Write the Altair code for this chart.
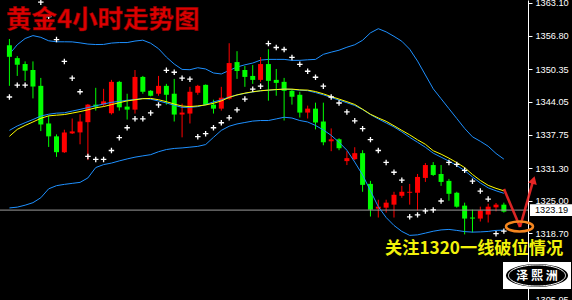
import altair as alt
import numpy as np
import pandas as pd

# Gold, 4-hour bars, oldest first
opens = [1354.95, 1352.47, 1351.33, 1350.18, 1347.13, 1339.88, 1337.40, 1334.35, 1337.97, 1338.16,
         1340.13, 1343.51, 1343.51, 1341.85, 1347.90, 1343.13, 1342.55, 1348.85, 1346.18, 1345.61,
         1347.13, 1345.61, 1341.60, 1341.79, 1345.80, 1347.32, 1343.51, 1342.74, 1344.65, 1351.71,
         1350.18, 1349.04, 1348.28, 1351.33, 1348.28, 1347.90, 1346.18, 1345.41, 1341.98, 1342.74,
         1340.26, 1336.45, 1336.83, 1332.63, 1333.01, 1334.16, 1328.24, 1323.47, 1323.66, 1324.24,
         1325.95, 1326.53, 1326.53, 1329.39, 1331.87, 1330.15, 1328.82, 1326.53, 1324.05, 1321.76,
         1321.56, 1322.33, 1323.72, 1324.24]
highs = [1356.16, 1352.86, 1351.84, 1351.84, 1348.66, 1341.41, 1337.78, 1338.68, 1340.84, 1341.66,
         1343.64, 1346.75, 1346.56, 1348.28, 1348.09, 1345.61, 1350.18, 1349.04, 1346.31, 1349.04,
         1347.51, 1348.47, 1343.70, 1346.94, 1347.32, 1347.40, 1344.46, 1346.94, 1355.34, 1353.81,
         1350.95, 1351.14, 1352.67, 1354.19, 1350.38, 1348.66, 1346.37, 1345.99, 1343.32, 1343.89,
         1343.89, 1338.93, 1337.02, 1334.54, 1335.30, 1334.73, 1328.82, 1325.19, 1325.19, 1326.72,
         1327.86, 1328.24, 1330.15, 1332.25, 1332.44, 1331.87, 1329.20, 1326.72, 1324.62, 1323.28,
         1323.85, 1324.43, 1324.56, 1324.62]
lows = [1347.13, 1349.04, 1348.09, 1344.71, 1338.41, 1335.36, 1333.45, 1334.20, 1337.85, 1335.87,
        1332.82, 1342.36, 1343.13, 1341.60, 1342.36, 1340.64, 1341.79, 1345.61, 1345.10, 1345.22,
        1343.51, 1340.26, 1337.21, 1339.88, 1345.41, 1343.40, 1341.79, 1342.36, 1344.46, 1348.47,
        1346.94, 1347.51, 1347.90, 1344.27, 1345.22, 1340.45, 1343.51, 1341.03, 1340.84, 1338.74,
        1335.68, 1334.54, 1334.73, 1331.87, 1332.82, 1326.72, 1321.95, 1321.76, 1322.71, 1321.76,
        1325.57, 1324.24, 1323.09, 1328.62, 1329.77, 1327.86, 1325.00, 1323.66, 1318.51, 1318.89,
        1320.99, 1320.80, 1322.96, 1322.71]
closes = [1352.72, 1351.20, 1350.05, 1347.00, 1339.69, 1337.40, 1334.35, 1338.16, 1338.35, 1340.26,
          1343.51, 1343.13, 1344.14, 1347.90, 1342.99, 1342.55, 1348.85, 1345.99, 1345.22, 1347.13,
          1345.41, 1341.60, 1341.98, 1345.99, 1347.13, 1343.51, 1342.74, 1344.84, 1351.52, 1349.99,
          1348.85, 1348.28, 1351.33, 1348.09, 1347.70, 1346.18, 1345.03, 1341.98, 1342.74, 1340.07,
          1336.26, 1336.83, 1335.11, 1333.20, 1334.16, 1328.05, 1323.28, 1323.85, 1324.62, 1326.14,
          1326.72, 1326.72, 1329.58, 1331.87, 1329.96, 1328.62, 1326.33, 1323.85, 1321.56, 1321.56,
          1323.09, 1323.85, 1324.24, 1322.90]

# Bollinger bands and moving average
boll_upper = [1353.24, 1355.05, 1356.25, 1356.81, 1356.48, 1355.81, 1355.62, 1355.62, 1355.60, 1355.41,
              1355.18, 1355.09, 1355.11, 1355.37, 1355.47, 1355.47, 1355.76, 1355.93, 1355.34, 1354.29,
              1352.67, 1351.33, 1350.30, 1350.24, 1350.62, 1350.38, 1349.61, 1349.42, 1350.09, 1350.76,
              1351.18, 1351.52, 1352.09, 1352.23, 1352.23, 1352.23, 1352.04, 1352.04, 1352.15, 1352.23,
              1353.20, 1353.62, 1354.00, 1354.57, 1355.05, 1355.91, 1357.34, 1358.14, 1357.53, 1356.67,
              1355.72, 1354.19, 1351.90, 1349.23, 1346.56, 1344.65, 1342.74, 1340.84, 1338.93, 1337.31,
              1336.45, 1335.49, 1334.10, 1333.01]
boll_mid = [1338.55, 1339.40, 1340.03, 1340.64, 1341.31, 1341.66, 1341.87, 1341.94, 1342.27, 1342.59,
            1342.95, 1343.28, 1343.64, 1343.95, 1344.14, 1344.35, 1344.50, 1344.71, 1344.56, 1344.21,
            1343.83, 1343.39, 1342.99, 1342.99, 1343.13, 1343.51, 1344.04, 1344.42, 1344.98, 1345.38,
            1345.68, 1345.93, 1346.18, 1346.29, 1346.41, 1346.50, 1346.43, 1346.31, 1346.20, 1345.83,
            1345.40, 1344.88, 1344.38, 1343.87, 1343.35, 1342.57, 1341.60, 1340.76, 1339.98, 1339.21,
            1338.26, 1337.21, 1336.26, 1335.30, 1334.16, 1333.39, 1332.63, 1331.77, 1330.82, 1329.58,
            1328.43, 1327.48, 1326.91, 1326.43]
ma_line = [1337.40, 1338.74, 1339.50, 1340.17, 1340.87, 1341.35, 1341.48, 1341.60, 1341.88, 1342.17,
           1342.51, 1342.90, 1343.14, 1343.51, 1343.89, 1344.23, 1344.44, 1344.65, 1344.71, 1344.46,
           1344.08, 1343.62, 1343.24, 1343.13, 1343.26, 1343.45, 1343.77, 1344.23, 1344.90, 1345.38,
           1345.72, 1345.99, 1346.18, 1346.31, 1346.41, 1346.50, 1346.50, 1346.35, 1346.31, 1346.03,
           1345.59, 1345.07, 1344.58, 1344.08, 1343.54, 1342.63, 1341.66, 1340.95, 1340.30, 1339.44,
           1338.55, 1337.69, 1336.73, 1335.87, 1334.63, 1333.97, 1333.20, 1332.34, 1331.39, 1330.06,
           1328.91, 1327.96, 1327.38, 1326.91]
boll_lower = [1323.61, 1323.76, 1324.14, 1324.62, 1325.57, 1327.29, 1327.90, 1328.15, 1328.34, 1328.53,
              1329.39, 1331.39, 1331.96, 1332.25, 1332.67, 1333.05, 1333.39, 1333.64, 1333.87, 1334.44,
              1334.86, 1335.07, 1335.17, 1335.32, 1335.47, 1335.82, 1337.21, 1338.55, 1339.35, 1339.79,
              1340.07, 1340.34, 1340.45, 1340.45, 1340.76, 1341.08, 1340.93, 1340.45, 1340.17, 1339.50,
              1338.64, 1337.59, 1336.26, 1334.73, 1332.44, 1329.96, 1326.91, 1323.85, 1321.76, 1320.23,
              1319.08, 1318.32, 1318.42, 1318.76, 1319.12, 1319.37, 1319.47, 1319.28, 1319.05, 1318.95,
              1318.99, 1319.08, 1319.28, 1319.33]
# Parabolic SAR (None where no dot is visible)
sar = [1344.98, 1347.27, 1347.27, None, 1363.25, 1360.49, 1356.04, 1351.84, 1348.60, 1345.99,
       1333.53, 1332.96, 1332.96, 1334.67, 1337.15, 1339.06, 1340.78, 1340.78, 1341.92, 1343.45,
       1350.13, 1349.75, 1348.60, 1348.41, 1337.34, 1337.92, 1339.06, 1340.02, 1340.97, 1342.50,
       1344.59, 1346.50, 1347.07, 1355.28, 1354.52, 1354.13, 1352.61, 1351.27, 1349.94, 1348.79,
       1347.07, 1344.98, 1343.83, 1342.11, 1340.40, 1338.87, 1336.77, 1334.67, 1332.38, 1330.48,
       1328.95, 1321.89, 1322.27, 1323.03, 1323.22, 1324.94, 1332.38, 1332.00, 1330.86, 1328.76,
       1326.85, 1325.32, 1318.65, 1319.14]

y_ticks = [1363.10, 1356.80, 1350.35, 1344.05, 1337.75, 1331.30, 1325.00, 1318.70, 1312.40, 1305.95]
last_price = 1323.19
title_text = "黄金4小时走势图"
note_text = "关注1320一线破位情况"
logo_text = "泽熙洲"

UP, DOWN = "#ff0000", "#00ff00"
BAND, MA = "#1e90ff", "#ffff00"
FONT_CJK = "Noto Sans CJK SC"
FONT_AX = "Liberation Sans"

n = len(opens)
bars = pd.DataFrame({"i": np.arange(n), "open": opens, "high": highs,
                     "low": lows, "close": closes})
bars["up"] = bars["close"] > bars["open"]
lines = pd.DataFrame({"i": np.arange(n), "upper": boll_upper, "mid": boll_mid,
                      "ma": ma_line, "lower": boll_lower, "sar": sar})

W, H = 528, 300
xs = alt.Scale(domain=[-0.5625, 65.4375], nice=False, zero=False)
ys = alt.Scale(domain=[1305.87, 1363.67], nice=False, zero=False)
X = alt.X("i:Q", scale=xs, axis=None)

# price axis on the right, shared by every layer
yaxis = alt.Axis(orient="right", values=y_ticks, format=".2f", title=None, grid=False,
                 domainColor="#ffffff", domainWidth=1, tickColor="#ffffff", tickSize=4,
                 labelColor="#ffffff", labelFont=FONT_AX, labelFontSize=9.2,
                 labelPadding=3, labelFlush=False, labelOverlap=False, labelBound=False)


def Y(field):
    return alt.Y(field, type="quantitative", scale=ys, axis=yaxis)


def Yd(value):
    return alt.Y(datum=value, scale=ys, axis=yaxis)


def candles(df, color):
    wick = alt.Chart(df).mark_rule(color=color, strokeWidth=1).encode(
        x=X, y=Y("high"), y2="low")
    body = alt.Chart(df).mark_bar(color=color, size=5).encode(
        x=X, y=Y("open"), y2="close")
    return [wick, body]


layers = [alt.Chart(lines).mark_line(color=BAND, strokeWidth=1).encode(x=X, y=Y("upper"))]
layers += candles(bars[bars["up"]], UP)
layers += candles(bars[~bars["up"]], DOWN)

one = alt.Data(values=[{}])

# horizontal line at the last price
layers.append(alt.Chart(one).mark_rule(color="#9a9a9a", strokeWidth=1).encode(y=Yd(last_price)))

for field, color in [("mid", BAND), ("lower", BAND), ("ma", MA)]:
    layers.append(alt.Chart(lines).mark_line(color=color, strokeWidth=1).encode(
        x=X, y=Y(field)))

plus = "M-1,0L1,0M0,-1L0,1"
layers.append(alt.Chart(lines.dropna(subset=["sar"])).mark_point(
    shape=plus, size=30, filled=False, color="#ffffff", strokeWidth=1.3, opacity=1).encode(
    x=X, y=Y("sar")))

# title
layers.append(alt.Chart(one).mark_text(
    text=title_text, font=FONT_CJK, fontSize=25.5, fontWeight="bold", color="#dd0000",
    stroke="#7a0000", strokeWidth=0.5, align="left", baseline="alphabetic").encode(
    x=alt.value(6), y=alt.value(28)))

# last price tag
box = "M-1,-0.28H1V0.28H-1Z"
layers.append(alt.Chart(one).mark_point(
    shape=box, size=42 * 42, filled=True, color="#ffffff", opacity=1).encode(
    x=alt.value(551), y=Yd(last_price)))
layers.append(alt.Chart(one).mark_text(
    text=f"{last_price:.2f}", font=FONT_AX, fontSize=9.2, color="#000000",
    align="left", baseline="middle").encode(
    x=alt.value(535), y=Yd(last_price)))

# arrow and ring
ARROW = "#ff2a2a"
layers.append(alt.Chart(one).mark_rule(color=ARROW, strokeWidth=2.6, opacity=0.85).encode(
    x=alt.value(504), y=alt.value(189), x2=alt.value(520), y2=alt.value(227)))
layers.append(alt.Chart(one).mark_rule(color=ARROW, strokeWidth=2.6, opacity=0.85).encode(
    x=alt.value(520), y=alt.value(227), x2=alt.value(532.5), y2=alt.value(183)))
layers.append(alt.Chart(one).mark_point(
    shape="triangle-up", size=80, filled=True, color=ARROW, opacity=0.9, angle=16).encode(
    x=alt.value(533.5), y=alt.value(180)))
ellipse = "M-1,0A1,0.37,0,1,0,1,0A1,0.37,0,1,0,-1,0Z"
layers.append(alt.Chart(one).mark_point(
    shape=ellipse, size=27 * 27, filled=False, color="#f5861f", strokeWidth=2.5, opacity=1).encode(
    x=alt.value(519.5), y=alt.value(226.5)))

# note
layers.append(alt.Chart(one).mark_text(
    text=note_text, font=FONT_CJK, fontSize=17.2, fontWeight="bold", color="#f2f20a",
    align="left", baseline="alphabetic").encode(
    x=alt.value(385), y=alt.value(253.5)))

# logo badge
layers.append(alt.Chart(one).mark_rect(color="#ffffff").encode(
    x=alt.value(503), x2=alt.value(571), y=alt.value(262), y2=alt.value(289)))
layers.append(alt.Chart(one).mark_point(
    shape=ellipse, size=62 * 62, filled=True, color="#000000", opacity=1).encode(
    x=alt.value(537), y=alt.value(275.5)))
layers.append(alt.Chart(one).mark_point(
    shape=ellipse, size=57 * 57, filled=False, color="#ffffff", strokeWidth=1, opacity=1).encode(
    x=alt.value(537), y=alt.value(275.5)))
layers.append(alt.Chart(one).mark_text(
    text=" ".join(logo_text), font=FONT_CJK, fontSize=12, fontWeight="bold", color="#ffffff",
    align="center", baseline="middle").encode(
    x=alt.value(537), y=alt.value(276)))

chart = alt.layer(*layers).properties(
    width=W, height=H,
    background="#000000",
    padding={"left": 0, "top": 0, "right": 44, "bottom": 0},
    autosize=alt.AutoSizeParams(type="none"),
).configure_view(stroke=None)

chart.save("out.html", embed_options={"renderer": "svg", "actions": False})
